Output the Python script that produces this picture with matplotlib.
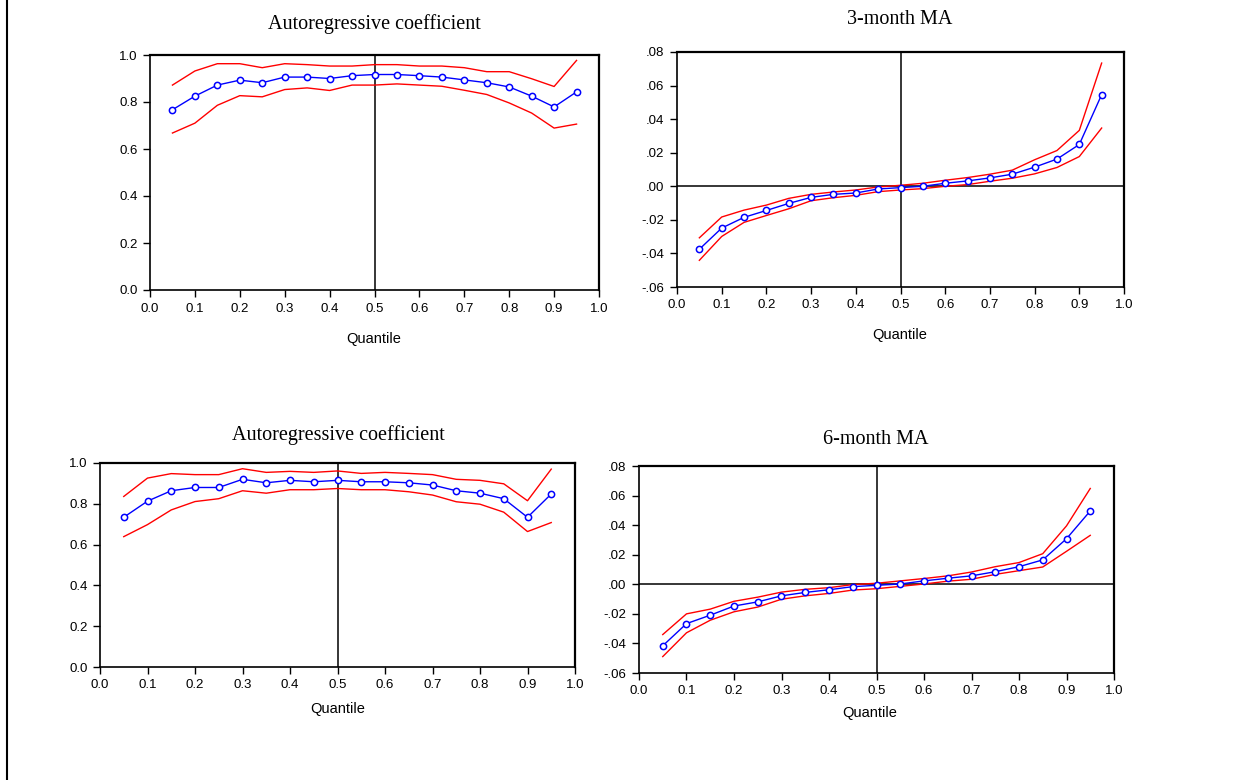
import matplotlib
matplotlib.use('Agg')
import matplotlib.pyplot as plt
from matplotlib.ticker import FuncFormatter, MultipleLocator
from matplotlib.lines import Line2D

W, H = 1241, 780

quantiles = [0.05, 0.10, 0.15, 0.20, 0.25, 0.30, 0.35, 0.40, 0.45, 0.50,
             0.55, 0.60, 0.65, 0.70, 0.75, 0.80, 0.85, 0.90, 0.95]

# 3-month model: autoregressive coefficient
ar3_coef = [0.767, 0.825, 0.872, 0.893, 0.882, 0.906, 0.906, 0.900, 0.912, 0.917,
            0.917, 0.912, 0.906, 0.894, 0.882, 0.864, 0.825, 0.779, 0.843]
ar3_upper = [0.872, 0.932, 0.963, 0.963, 0.946, 0.963, 0.959, 0.953, 0.953, 0.959,
             0.959, 0.953, 0.953, 0.946, 0.929, 0.929, 0.899, 0.866, 0.977]
ar3_lower = [0.668, 0.710, 0.786, 0.827, 0.822, 0.853, 0.860, 0.849, 0.872, 0.872,
             0.877, 0.872, 0.867, 0.850, 0.832, 0.796, 0.753, 0.689, 0.706]

# 3-month MA coefficient
ma3_coef = [-0.0375, -0.0249, -0.0185, -0.0144, -0.0102, -0.0066, -0.0048, -0.0040, -0.0016, -0.0008,
            0.0000, 0.0018, 0.0032, 0.0050, 0.0072, 0.0114, 0.0162, 0.0249, 0.0546]
ma3_upper = [-0.0307, -0.0183, -0.0142, -0.0112, -0.0072, -0.0048, -0.0034, -0.0022, -0.0004, 0.0006,
             0.0018, 0.0036, 0.0052, 0.0072, 0.0096, 0.0158, 0.0213, 0.0333, 0.0734]
ma3_lower = [-0.0441, -0.0299, -0.0215, -0.0174, -0.0134, -0.0086, -0.0068, -0.0054, -0.0032, -0.0022,
             -0.0014, 0.0000, 0.0010, 0.0030, 0.0048, 0.0074, 0.0112, 0.0177, 0.0347]

# 6-month model: autoregressive coefficient
ar6_coef = [0.734, 0.813, 0.864, 0.880, 0.880, 0.920, 0.903, 0.915, 0.908, 0.915,
            0.908, 0.908, 0.903, 0.892, 0.864, 0.852, 0.825, 0.734, 0.848]
ar6_upper = [0.836, 0.926, 0.948, 0.943, 0.943, 0.972, 0.954, 0.959, 0.954, 0.961,
             0.949, 0.954, 0.949, 0.943, 0.920, 0.915, 0.898, 0.815, 0.970]
ar6_lower = [0.639, 0.698, 0.770, 0.811, 0.825, 0.864, 0.852, 0.869, 0.869, 0.875,
             0.869, 0.869, 0.859, 0.843, 0.810, 0.798, 0.759, 0.664, 0.708]

# 6-month MA coefficient
ma6_coef = [-0.0416, -0.0266, -0.0209, -0.0147, -0.0119, -0.0078, -0.0055, -0.0037, -0.0016, -0.0007,
            0.0002, 0.0023, 0.0041, 0.0057, 0.0085, 0.0119, 0.0165, 0.0308, 0.0496]
ma6_upper = [-0.0340, -0.0200, -0.0168, -0.0115, -0.0087, -0.0053, -0.0034, -0.0023, -0.0002, 0.0007,
             0.0023, 0.0039, 0.0057, 0.0083, 0.0119, 0.0147, 0.0207, 0.0395, 0.0648]
ma6_lower = [-0.0489, -0.0328, -0.0243, -0.0186, -0.0154, -0.0101, -0.0078, -0.0062, -0.0039, -0.0030,
             -0.0014, 0.0002, 0.0021, 0.0034, 0.0067, 0.0092, 0.0117, 0.0223, 0.0331]

TITLE_FONT = 'Liberation Serif'
TICK_FONT = 'Liberation Sans'


def px_axes(fig, x0, y0, x1, y1):
    """Add axes from pixel box (top-left origin)."""
    return fig.add_axes([x0 / W, 1 - y1 / H, (x1 - x0) / W, (y1 - y0) / H])


def ma_fmt(v, pos):
    s = '%.2f' % v
    if s.startswith('0'):
        s = s[1:]
    elif s.startswith('-0'):
        s = '-' + s[2:]
    return s


def draw_panel(ax, coef, upper, lower, ylim, ystep, is_ma):
    ax.plot(quantiles, upper, color='#ff0000', lw=1.0, zorder=3)
    ax.plot(quantiles, lower, color='#ff0000', lw=1.0, zorder=3)
    ax.plot(quantiles, coef, color='#0000ff', lw=1.0, marker='o', ms=4.5,
            mfc='white', mec='#0000ff', mew=1.1, zorder=4)
    ax.axvline(0.5, color='black', lw=1.1, zorder=2)
    if is_ma:
        ax.axhline(0.0, color='black', lw=1.1, zorder=2)
        ax.yaxis.set_major_formatter(FuncFormatter(ma_fmt))
    else:
        ax.yaxis.set_major_formatter(FuncFormatter(lambda v, p: '%.1f' % v))
    ax.set_xlim(0, 1)
    ax.set_ylim(*ylim)
    ax.xaxis.set_major_locator(MultipleLocator(0.1))
    ax.xaxis.set_major_formatter(FuncFormatter(lambda v, p: '%.1f' % v))
    ax.yaxis.set_major_locator(MultipleLocator(ystep))
    ax.tick_params(direction='out', length=5, width=1.0, labelsize=9.5,
                   top=False, right=False, pad=4)
    for lab in ax.get_xticklabels() + ax.get_yticklabels():
        lab.set_fontfamily(TICK_FONT)
    for side, sp in ax.spines.items():
        sp.set_linewidth(1.6 if side in ('top', 'right') else 1.2)


fig = plt.figure(figsize=(W / 100, H / 100), dpi=100)

ax1 = px_axes(fig, 150, 55, 599, 290)
draw_panel(ax1, ar3_coef, ar3_upper, ar3_lower, (0, 1.0), 0.2, False)
ax2 = px_axes(fig, 677, 52, 1124, 287)
draw_panel(ax2, ma3_coef, ma3_upper, ma3_lower, (-0.06, 0.08), 0.02, True)
ax3 = px_axes(fig, 100, 463, 575, 667)
draw_panel(ax3, ar6_coef, ar6_upper, ar6_lower, (0, 1.0), 0.2, False)
ax4 = px_axes(fig, 639, 466, 1114, 673)
draw_panel(ax4, ma6_coef, ma6_upper, ma6_lower, (-0.06, 0.08), 0.02, True)

titles = [(374, 24, 'Autoregressive coefficient'), (900, 20, '3-month MA'),
          (338, 435, 'Autoregressive coefficient'), (876, 440, '6-month MA')]
for x, y, t in titles:
    fig.text(x / W, 1 - y / H, t, ha='center', va='center',
             fontfamily=TITLE_FONT, fontsize=14.5)

for x, y in [(374, 339), (900, 335), (338, 709), (870, 713)]:
    fig.text(x / W, 1 - y / H, 'Quantile', ha='center', va='center',
             fontfamily=TICK_FONT, fontsize=10.5)

# left border line of the original page
fig.add_artist(Line2D([7 / W, 7 / W], [0, 1], color='black', lw=1.5,
                      transform=fig.transFigure))

fig.savefig('out.png', dpi=100)
